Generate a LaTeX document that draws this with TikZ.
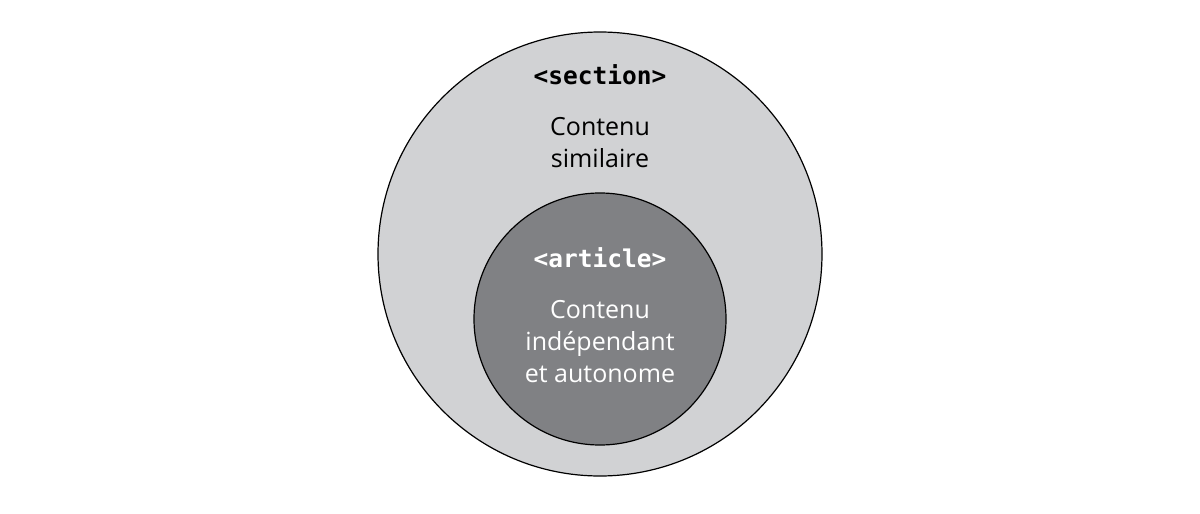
\documentclass[tikz,border=0pt]{standalone}
\usepackage{fontspec}
\setmainfont{Open Sans}
\setmonofont{DejaVu Sans Mono}
\usetikzlibrary{positioning}
\definecolor{outergray}{HTML}{D1D2D4}
\definecolor{innergray}{HTML}{808184}

\begin{document}
\begin{tikzpicture}[
    x=1pt, y=-1pt,
    zone/.style={circle, draw=black, line width=1.2pt, inner sep=0pt},
    tag/.style={font=\fontsize{24.5}{30}\selectfont\ttfamily\bfseries, anchor=base, inner sep=0pt},
    desc/.style={font=\fontsize{25}{32}\selectfont, align=center, anchor=base, inner sep=0pt}
]
    \useasboundingbox (0,0) rectangle (1200,514);
    \node[zone, fill=outergray, minimum size=444pt] (sect) at (600,254) {};
    \node[zone, fill=innergray, minimum size=252pt] (art) at (600,319) {};

    % base of a wrapped node is its last line
    \node[tag] (secttag) at (600,84) {<section>};
    \node[desc] (secttxt) at (600,167) {Contenu\\similaire};

    \node[tag, text=white] (arttag) at (600,267) {<article>};
    \node[desc, text=white] (arttxt) at (600,382) {Contenu\\indépendant\\et autonome};
\end{tikzpicture}
\end{document}
